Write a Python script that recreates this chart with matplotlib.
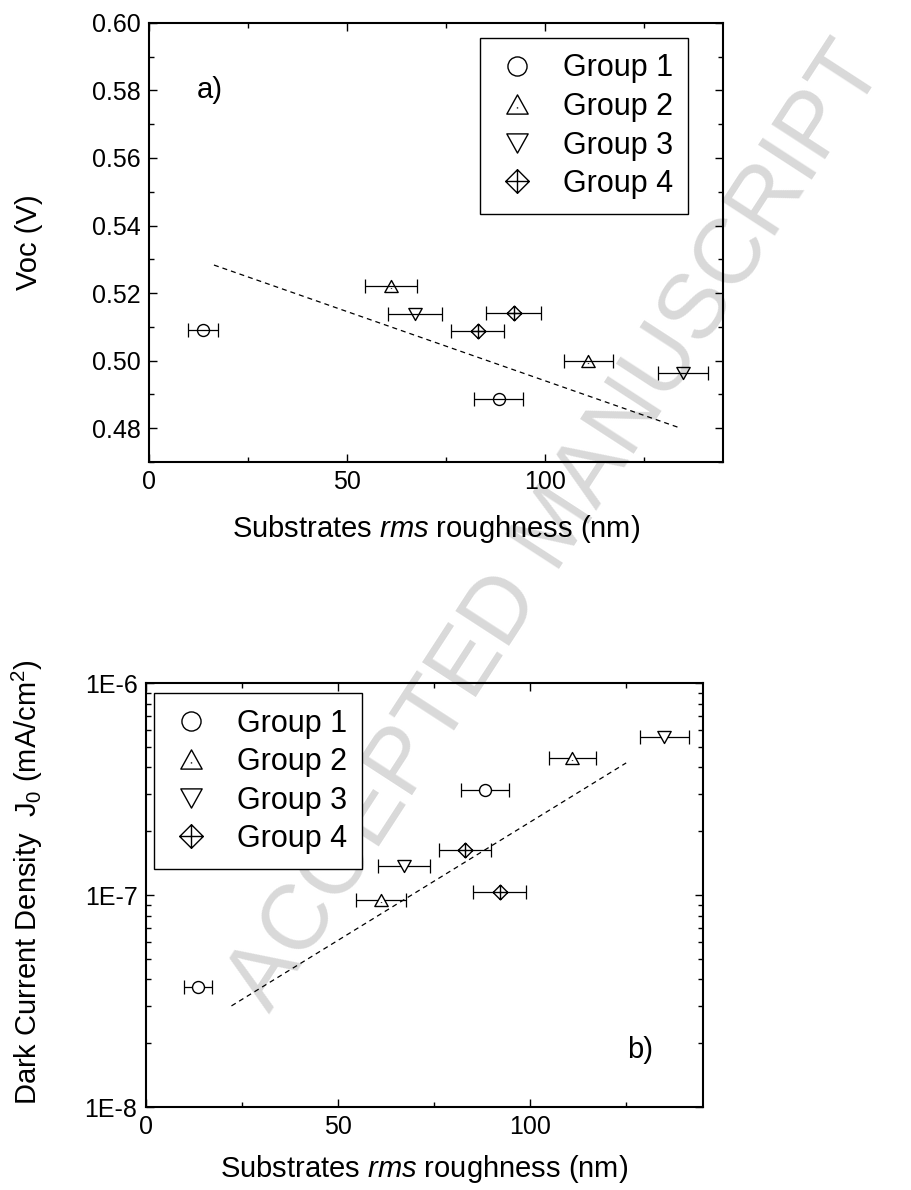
import numpy as np
import matplotlib
matplotlib.use('Agg')
import matplotlib.pyplot as plt
from matplotlib.path import Path
from matplotlib.lines import Line2D
from matplotlib.ticker import MultipleLocator, FormatStrFormatter, LogLocator, FuncFormatter, NullFormatter

plt.rcParams['font.family'] = ['Liberation Sans', 'DejaVu Sans']
plt.rcParams['mathtext.fontset'] = 'custom'
plt.rcParams['mathtext.rm'] = 'Liberation Sans'
plt.rcParams['mathtext.it'] = 'Liberation Sans:italic'
plt.rcParams['mathtext.bf'] = 'Liberation Sans:bold'

groups = ['Group 1', 'Group 2', 'Group 3', 'Group 4']

# substrate rms roughness (nm) and its error bar, two samples per group
rough = [[13.6, 88.3], [61.2, 111.0], [67.1, 134.9], [83.0, 92.1]]
rough_err = [[3.7, 6.3], [6.6, 6.2], [6.8, 6.4], [6.8, 6.9]]

# a) open circuit voltage (V)
voc = [[0.509, 0.4885], [0.522, 0.500], [0.5137, 0.4962], [0.5088, 0.5142]]
voc_fit_x = [16.4, 134.3]
voc_fit_y = [0.5283, 0.4800]

# b) dark current density J0 (mA/cm2)
j0 = [[3.70e-8, 3.13e-7], [9.46e-8, 4.41e-7], [1.37e-7, 5.54e-7], [1.63e-7, 1.03e-7]]
j0_fit_x = [22.3, 125.0]
j0_fit_y = [3.0e-8, 4.2e-7]

# marker shapes like the Origin ones
tri_up = Path([(0, 0.9), (-1, -0.9), (1, -0.9), (0, 0.9), (0, -0.38), (0, -0.26)],
              [Path.MOVETO, Path.LINETO, Path.LINETO, Path.CLOSEPOLY, Path.MOVETO, Path.LINETO])
tri_down = Path([(0, -0.9), (-1, 0.9), (1, 0.9), (0, -0.9)],
                [Path.MOVETO, Path.LINETO, Path.LINETO, Path.CLOSEPOLY])
diam_cross = Path([(0, 1), (1, 0), (0, -1), (-1, 0), (0, 1), (0, 1), (0, -1), (-1, 0), (1, 0)],
                  [Path.MOVETO, Path.LINETO, Path.LINETO, Path.LINETO, Path.CLOSEPOLY,
                   Path.MOVETO, Path.LINETO, Path.MOVETO, Path.LINETO])
markers = ['o', tri_up, tri_down, diam_cross]
msizes = [8.6, 9.6, 9.6, 10.6]


def style_axis(ax):
    ax.set_facecolor('none')
    for s in ax.spines.values():
        s.set_linewidth(1.5)
    ax.tick_params(which='both', direction='in', top=True, right=True, width=1.0,
                   labelsize=18, pad=6)
    ax.tick_params(which='major', length=6)
    ax.tick_params(which='minor', length=3.5)
    ax.set_xlim(0, 145)
    ax.xaxis.set_major_locator(MultipleLocator(50))
    ax.xaxis.set_minor_locator(MultipleLocator(25))


def draw_points(ax, yvals, face):
    for i in range(4):
        ax.errorbar(rough[i], yvals[i], xerr=rough_err[i], fmt='none', ecolor='black',
                    elinewidth=0.9, capsize=4.7, capthick=0.9, zorder=2)
        ax.plot(rough[i], yvals[i], ls='none', marker=markers[i], ms=msizes[i],
                mfc=face, mec='black', mew=1.0, zorder=3)


def add_legend(ax, anchor):
    handles = [Line2D([], [], ls='none', marker=markers[i], ms=msizes[i], mfc='none',
                      mec='black', mew=1.0) for i in range(4)]
    leg = ax.legend(handles, groups, loc='upper left', bbox_to_anchor=anchor,
                    borderaxespad=0, fontsize=22, frameon=True, fancybox=False,
                    edgecolor='black', framealpha=1, borderpad=0.5, handlelength=1.4,
                    handletextpad=0.8, labelspacing=0.28, markerscale=1.6)
    leg.get_frame().set_linewidth(1.0)


fig = plt.figure(figsize=(9.11, 11.9), dpi=100)

# watermark
fig.text(0.6125, 0.557, 'ACCEPTED MANUSCRIPT', rotation=57, fontsize=66,
         color='#d9d9d9', ha='center', va='center', rotation_mode='anchor', zorder=-1)

# a) Voc
ax1 = fig.add_axes([0.1636, 0.6118, 0.630, 0.369])
style_axis(ax1)
ax1.set_ylim(0.47, 0.60)
ax1.yaxis.set_major_locator(MultipleLocator(0.02))
ax1.yaxis.set_minor_locator(MultipleLocator(0.01))
ax1.yaxis.set_major_formatter(FormatStrFormatter('%.2f'))
draw_points(ax1, voc, 'none')
ax1.plot(voc_fit_x, voc_fit_y, color='black', lw=0.9, dashes=(4, 3.2), zorder=1)
add_legend(ax1, (0.577, 0.965))
ax1.text(0.106, 0.847, 'a)', transform=ax1.transAxes, fontsize=21, ha='center', va='center')
ax1.set_xlabel(r'Substrates $\mathit{rms}$ roughness (nm)', fontsize=21)
ax1.set_ylabel('Voc (V)', fontsize=21)
ax1.xaxis.set_label_coords(0.5, -0.116)
ax1.yaxis.set_label_coords(-0.185, 0.5)

# b) J0
ax2 = fig.add_axes([0.160, 0.0697, 0.6117, 0.3563])
style_axis(ax2)
ax2.set_yscale('log')
ax2.set_ylim(1e-8, 1e-6)
ax2.yaxis.set_major_locator(LogLocator(base=10))
ax2.yaxis.set_minor_locator(LogLocator(base=10, subs=np.arange(2, 10)))
ax2.yaxis.set_major_formatter(FuncFormatter(lambda v, p: '1E%d' % round(np.log10(v))))
ax2.yaxis.set_minor_formatter(NullFormatter())
draw_points(ax2, j0, 'white')
ax2.plot(j0_fit_x, j0_fit_y, color='black', lw=0.9, dashes=(4, 3.2), zorder=1)
add_legend(ax2, (0.015, 0.976))
ax2.text(0.887, 0.134, 'b)', transform=ax2.transAxes, fontsize=21, ha='center', va='center')
ax2.set_xlabel(r'Substrates $\mathit{rms}$ roughness (nm)', fontsize=21)
ax2.set_ylabel(r'Dark Current Density  J$_0$ (mA/cm$^2$)', fontsize=21)
ax2.xaxis.set_label_coords(0.5, -0.108)
ax2.yaxis.set_label_coords(-0.181, 0.53)

fig.savefig('out.png', dpi=100, facecolor='white')
